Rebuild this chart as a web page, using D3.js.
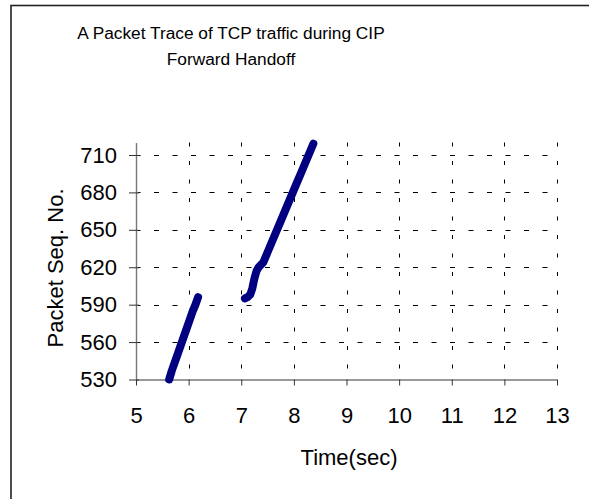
<!DOCTYPE html>
<html>
<head>
<meta charset="utf-8">
<script src="https://cdn.jsdelivr.net/npm/d3@7"></script>
<style>
  body { margin: 0; background: #fff; }
  svg { display: block; font-family: "Liberation Sans", Arial, sans-serif; }
</style>
</head>
<body>
<div id="chart"></div>
<script>
// time (sec) and packet sequence numbers
const firstTime = [5.63, 5.68, 5.73, 5.78, 5.83, 5.88, 5.93, 5.98, 6.03, 6.08, 6.13, 6.18];
const firstSeq  = [530, 537, 543, 549, 555, 561, 567, 573, 579, 585, 590, 596];

const secondTime = [7.07, 7.12, 7.17, 7.21, 7.25, 7.29, 7.33, 7.42, 7.50, 7.58, 7.66, 7.74, 7.82, 7.90, 7.98, 8.06, 8.14, 8.22, 8.30, 8.37];
const secondSeq  = [595, 596, 598, 603, 611, 617, 620, 624, 632, 640, 648, 656, 664, 672, 680, 688, 696, 704, 712, 719];

const xTicks = [5, 6, 7, 8, 9, 10, 11, 12, 13];
const yTicks = [530, 560, 590, 620, 650, 680, 710];

const titleLines = ["A Packet Trace of TCP traffic during CIP", "Forward Handoff"];

function drawChart() {
    const width = 589, height = 499;
    const plot = { left: 136, right: 557, top: 142.5, bottom: 379.5 };

    const svg = d3.select("#chart").append("svg")
        .attr("width", width)
        .attr("height", height);

    // outer chart border (runs off the picture at right and bottom)
    svg.append("rect")
        .attr("x", 11).attr("y", 5.5)
        .attr("width", 700).attr("height", 700)
        .attr("fill", "none")
        .attr("stroke", "#222")
        .attr("stroke-width", 1.6);

    const x = d3.scaleLinear().domain([5, 13]).range([plot.left, plot.right]);
    const y = d3.scaleLinear().domain([530, 720]).range([plot.bottom, plot.top]);

    // dashed gridlines
    svg.append("g").selectAll("line")
        .data(yTicks.slice(1))
        .join("line")
        .attr("x1", plot.left + 2).attr("x2", plot.right)
        .attr("y1", d => Math.round(y(d)) + 0.5).attr("y2", d => Math.round(y(d)) + 0.5)
        .attr("stroke", "#000")
        .attr("stroke-dasharray", "5,13.5")
        .attr("stroke-dashoffset", -16);

    svg.append("g").selectAll("line")
        .data(xTicks.slice(1))
        .join("line")
        .attr("x1", d => Math.round(x(d)) + 0.5).attr("x2", d => Math.round(x(d)) + 0.5)
        .attr("y1", plot.top).attr("y2", plot.bottom)
        .attr("stroke", "#000")
        .attr("stroke-dasharray", "4,14.5");

    // axes
    const xAxis = svg.append("g")
        .attr("transform", `translate(0,${plot.bottom})`)
        .call(d3.axisBottom(x).tickValues(xTicks).tickSize(6).tickSizeOuter(0).tickPadding(22));
    const yAxis = svg.append("g")
        .attr("transform", `translate(${plot.left},0)`)
        .call(d3.axisLeft(y).tickValues(yTicks).tickSize(7).tickSizeOuter(0).tickPadding(12));

    [xAxis, yAxis].forEach(a => {
        a.select(".domain").attr("stroke", "#777").attr("stroke-width", 1.4);
        a.selectAll(".tick line").attr("stroke", "#333");
        a.selectAll(".tick text")
            .attr("fill", "#000")
            .style("font-size", "22px")
            .style("font-family", "'Liberation Sans', Arial, sans-serif");
    });
    yAxis.selectAll(".tick line").attr("x2", -7).attr("x1", 3);

    // the two bursts of the trace
    const line = d3.line().x(d => x(d[0])).y(d => y(d[1]));
    const series = [
        d3.zip(firstTime, firstSeq),
        d3.zip(secondTime, secondSeq)
    ];
    svg.append("g").selectAll("path")
        .data(series)
        .join("path")
        .attr("d", line)
        .attr("fill", "none")
        .attr("stroke", "#000080")
        .attr("stroke-width", 8)
        .attr("stroke-linecap", "round")
        .attr("stroke-linejoin", "round");

    // title
    svg.append("text")
        .attr("x", 231).attr("y", 38.5)
        .attr("text-anchor", "middle")
        .style("font-size", "17.3px")
        .selectAll("tspan")
        .data(titleLines)
        .join("tspan")
        .attr("x", 231)
        .attr("dy", (d, i) => i === 0 ? 0 : 26.5)
        .text(d => d);

    // axis titles
    svg.append("text")
        .attr("x", 349).attr("y", 465)
        .attr("text-anchor", "middle")
        .style("font-size", "22px")
        .text("Time(sec)");

    svg.append("text")
        .attr("transform", `translate(63,268) rotate(-90)`)
        .attr("text-anchor", "middle")
        .style("font-size", "22px")
        .text("Packet Seq. No.");
}

window.addEventListener("load", drawChart);
</script>
</body>
</html>
